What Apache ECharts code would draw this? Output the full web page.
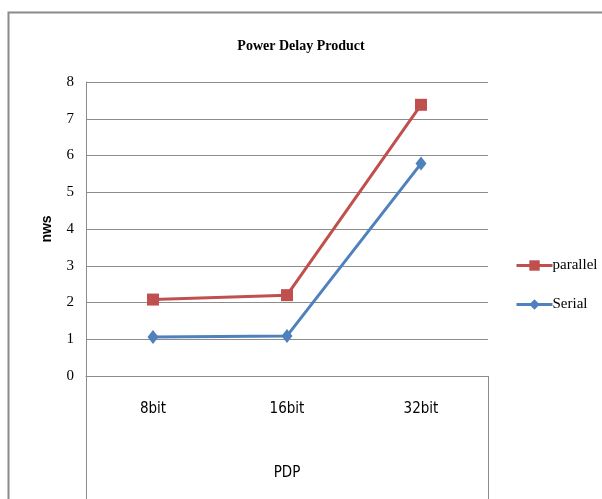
<!DOCTYPE html>
<html>
<head>
<meta charset="utf-8">
<script src="https://cdn.jsdelivr.net/npm/echarts@6/dist/echarts.min.js"></script>
<style>
  html, body { margin: 0; padding: 0; background: #fff; }
  #chart { width: 602px; height: 499px; }
</style>
</head>
<body>
<div id="chart"></div>
<script>
  // data
  var categories = ['8bit', '16bit', '32bit'];
  var parallelValues = [2.08, 2.2, 7.38];
  var serialValues = [1.06, 1.09, 5.78];
  var yTicks = [0, 8, 1];

  var red = '#C0504D';
  var blue = '#4F81BD';
  var gridColor = '#8c8c8c';

  var chart = echarts.init(document.getElementById('chart'));
  var option = {
    backgroundColor: '#fff',
    animation: false,
    title: {
      text: 'Power Delay Product',
      left: 296,
      textAlign: 'center',
      top: 34,
      textStyle: {
        fontFamily: 'Liberation Serif',
        fontWeight: 'bold',
        fontSize: 14,
        color: '#000'
      }
    },
    legend: {
      orient: 'vertical',
      left: 510,
      top: 253,
      itemGap: 24,
      itemWidth: 36,
      itemHeight: 13,
      textStyle: {
        fontFamily: 'Liberation Serif',
        fontSize: 15,
        color: '#000',
        padding: [0, 0, 0, -5]
      },
      data: [
        { name: 'parallel', itemStyle: { color: red }, lineStyle: { width: 3 } },
        { name: 'Serial', itemStyle: { color: blue }, lineStyle: { width: 3 } }
      ]
    },
    grid: {
      left: 86,
      right: 114,
      top: 82,
      bottom: 123
    },
    xAxis: {
      type: 'category',
      data: categories,
      boundaryGap: true,
      name: 'PDP',
      nameLocation: 'middle',
      nameGap: 90,
      nameTextStyle: {
        fontFamily: 'DejaVu Sans Condensed',
        fontSize: 15,
        color: '#000'
      },
      axisLine: { lineStyle: { color: gridColor, width: 1 } },
      axisTick: { show: false },
      axisLabel: {
        margin: 26,
        fontFamily: 'DejaVu Sans Condensed',
        fontSize: 15,
        color: '#000'
      }
    },
    yAxis: {
      type: 'value',
      min: yTicks[0],
      max: yTicks[1],
      interval: yTicks[2],
      name: 'nws',
      nameLocation: 'middle',
      nameGap: 32,
      nameRotate: 90,
      nameTextStyle: {
        fontFamily: 'Liberation Sans',
        fontWeight: 'bold',
        fontSize: 14,
        color: '#000'
      },
      axisLine: { show: true, lineStyle: { color: gridColor, width: 1 } },
      axisTick: { show: false },
      splitLine: { lineStyle: { color: gridColor, width: 1 } },
      axisLabel: {
        margin: 12,
        fontFamily: 'Liberation Serif',
        fontSize: 15,
        color: '#000'
      }
    },
    graphic: [
      {
        type: 'rect',
        shape: { x: 8.5, y: 12.5, width: 620, height: 520 },
        style: { fill: 'none', stroke: '#8a8a8a', lineWidth: 2 },
        silent: true
      },
      {
        type: 'line',
        shape: { x1: 86.5, y1: 376, x2: 86.5, y2: 499 },
        style: { stroke: gridColor, lineWidth: 1 },
        silent: true
      },
      {
        type: 'line',
        shape: { x1: 488.5, y1: 376, x2: 488.5, y2: 499 },
        style: { stroke: gridColor, lineWidth: 1 },
        silent: true
      }
    ],
    series: [
      {
        name: 'parallel',
        type: 'line',
        data: parallelValues,
        symbol: 'rect',
        symbolSize: 12,
        itemStyle: { color: red },
        lineStyle: { color: red, width: 3 },
        z: 3
      },
      {
        name: 'Serial',
        type: 'line',
        data: serialValues,
        symbol: 'diamond',
        symbolSize: [11, 14],
        itemStyle: { color: blue },
        lineStyle: { color: blue, width: 3 },
        z: 4
      }
    ]
  };
  chart.setOption(option);
</script>
</body>
</html>
